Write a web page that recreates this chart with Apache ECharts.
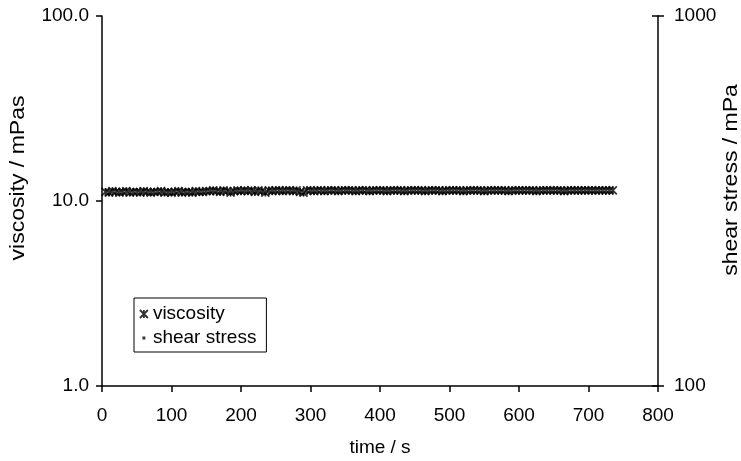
<!DOCTYPE html>
<html>
<head>
<meta charset="utf-8">
<script src="https://cdn.jsdelivr.net/npm/echarts@6/dist/echarts.min.js"></script>
<style>
  html, body { margin: 0; padding: 0; background: #fff; }
  #chart { width: 741px; height: 461px; }
</style>
</head>
<body>
<div id="chart"></div>
<script>
// Measurement times (s)
const timeS = [
  5, 10, 15, 20, 25, 30, 35, 40, 45, 50,
  55, 60, 65, 70, 75, 80, 85, 90, 95, 100,
  105, 110, 115, 120, 125, 130, 135, 140, 145, 150,
  155, 160, 165, 170, 175, 180, 185, 190, 195, 200,
  205, 210, 215, 220, 225, 230, 235, 240, 245, 250,
  255, 260, 265, 270, 275, 280, 285, 290, 295, 300,
  305, 310, 315, 320, 325, 330, 335, 340, 345, 350,
  355, 360, 365, 370, 375, 380, 385, 390, 395, 400,
  405, 410, 415, 420, 425, 430, 435, 440, 445, 450,
  455, 460, 465, 470, 475, 480, 485, 490, 495, 500,
  505, 510, 515, 520, 525, 530, 535, 540, 545, 550,
  555, 560, 565, 570, 575, 580, 585, 590, 595, 600,
  605, 610, 615, 620, 625, 630, 635, 640, 645, 650,
  655, 660, 665, 670, 675, 680, 685, 690, 695, 700,
  705, 710, 715, 720, 725, 730, 735
];

// Viscosity (mPas)
const viscosity = [
  11.2, 11.1, 11.3, 11.2, 11.1, 11.2, 11.3, 11.1, 11.2, 11.2,
  11.1, 11.3, 11.2, 11.1, 11.2, 11.2, 11.3, 11.1, 11.2, 11.1,
  11.2, 11.3, 11.1, 11.2, 11.2, 11.1, 11.3, 11.2, 11.2, 11.3,
  11.3, 11.4, 11.3, 11.2, 11.4, 11.3, 11.1, 11.3, 11.4, 11.3,
  11.4, 11.3, 11.4, 11.2, 11.4, 11.3, 11.1, 11.4, 11.3, 11.4,
  11.4, 11.3, 11.4, 11.4, 11.3, 11.4, 11.2, 11.1, 11.4, 11.4,
  11.3, 11.4, 11.4, 11.3, 11.4, 11.4, 11.4, 11.3, 11.4, 11.4,
  11.4, 11.4, 11.3, 11.4, 11.4, 11.4, 11.3, 11.4, 11.4, 11.4,
  11.4, 11.3, 11.4, 11.4, 11.4, 11.4, 11.3, 11.4, 11.4, 11.4,
  11.4, 11.4, 11.3, 11.4, 11.4, 11.4, 11.4, 11.3, 11.4, 11.4,
  11.4, 11.4, 11.4, 11.3, 11.4, 11.4, 11.4, 11.4, 11.4, 11.3,
  11.4, 11.4, 11.4, 11.4, 11.4, 11.4, 11.3, 11.4, 11.4, 11.4,
  11.4, 11.4, 11.4, 11.4, 11.3, 11.4, 11.4, 11.4, 11.4, 11.4,
  11.4, 11.4, 11.3, 11.4, 11.4, 11.4, 11.4, 11.4, 11.4, 11.4,
  11.4, 11.4, 11.4, 11.4, 11.4, 11.4, 11.4
];

// Shear stress (mPa) — no points fall inside the 100–1000 axis range
const shearStress = [];

const xTicks = { min: 0, max: 800, interval: 100 };
const leftRange = { min: 1, max: 100 };
const rightRange = { min: 100, max: 1000 };

const FONT = '"Liberation Sans", Arial, sans-serif';
const FS = 19;
const TITLE_FS = 20;
const TITLE_STRETCH = 1.15;
const asterisk = 'path://M0,0L10,10M10,0L0,10M5,0L5,10';
// small dot centred in a 10x10 box (corner specks only fix the box size)
const smallDot = 'path://M3.2,3.2h3.6v3.6h-3.6zM0,0h0.01v0.01h-0.01zM9.99,9.99h0.01v0.01h-0.01z';

const chart = echarts.init(document.getElementById('chart'), null, { renderer: 'canvas' });

const axisLine = { show: true, lineStyle: { color: '#000', width: 1.5 } };
const tickStyle = { color: '#000', width: 1.5 };
const labelStyle = { fontFamily: FONT, fontSize: FS, color: '#000' };

chart.setOption({
  animation: false,
  backgroundColor: '#fff',
  textStyle: { fontFamily: FONT, color: '#000' },
  grid: { left: 102, right: 83, top: 16, bottom: 75, containLabel: false, outerBoundsMode: 'none' },
  legend: {
    orient: 'vertical',
    left: 134,
    top: 298,
    borderColor: '#000',
    borderWidth: 1,
    borderRadius: 0,
    padding: [6, 10, 4, 5],
    itemGap: 4,
    itemWidth: 8,
    itemHeight: 8,
    textStyle: { fontFamily: FONT, fontSize: FS, color: '#000', lineHeight: 20 },
    data: [
      { name: 'viscosity', icon: asterisk, itemStyle: { color: '#000', borderColor: '#000', borderWidth: 1.8 } },
      { name: 'shear stress', icon: smallDot, itemStyle: { color: '#000', borderWidth: 0 } }
    ]
  },
  graphic: [
    {
      type: 'text', x: 18, y: 178, rotation: Math.PI / 2, scaleX: TITLE_STRETCH,
      style: { text: 'viscosity / mPas', font: TITLE_FS + 'px "Liberation Sans", Arial, sans-serif',
               fill: '#000', textAlign: 'center', textVerticalAlign: 'middle' }
    },
    {
      type: 'text', x: 731, y: 180, rotation: Math.PI / 2, scaleX: TITLE_STRETCH,
      style: { text: 'shear stress / mPa', font: TITLE_FS + 'px "Liberation Sans", Arial, sans-serif',
               fill: '#000', textAlign: 'center', textVerticalAlign: 'middle' }
    }
  ],
  xAxis: {
    type: 'value',
    min: xTicks.min, max: xTicks.max, interval: xTicks.interval,
    name: 'time / s',
    nameLocation: 'middle',
    nameGap: 52,
    nameTextStyle: labelStyle,
    axisLine: axisLine,
    axisTick: { show: true, inside: false, length: 6, lineStyle: tickStyle },
    axisLabel: Object.assign({ margin: 20 }, labelStyle),
    splitLine: { show: false }
  },
  yAxis: [
    {
      type: 'log', logBase: 10,
      min: leftRange.min, max: leftRange.max,
      position: 'left',
      axisLine: axisLine,
      axisTick: { show: true, inside: false, length: 6, lineStyle: tickStyle },
      axisLabel: Object.assign({ margin: 13, formatter: v => v.toFixed(1) }, labelStyle),
      minorTick: { show: false },
      splitLine: { show: false }
    },
    {
      type: 'log', logBase: 10,
      min: rightRange.min, max: rightRange.max,
      position: 'right',
      axisLine: axisLine,
      axisTick: { show: true, inside: false, length: 6, lineStyle: tickStyle },
      axisLabel: Object.assign({ margin: 16, formatter: v => String(Math.round(v)) }, labelStyle),
      splitLine: { show: false }
    },
    {
      // inner half of the crossing ticks on the right axis
      type: 'log', logBase: 10,
      min: rightRange.min, max: rightRange.max,
      position: 'right',
      axisLine: { show: false },
      axisTick: { show: true, inside: true, length: 6, lineStyle: tickStyle },
      axisLabel: { show: false },
      splitLine: { show: false }
    }
  ],
  series: [
    {
      name: 'viscosity',
      type: 'scatter',
      yAxisIndex: 0,
      symbol: asterisk,
      symbolSize: 8,
      itemStyle: { color: '#000', borderColor: '#000', borderWidth: 1.8 },
      data: timeS.map((t, i) => [t, viscosity[i]])
    },
    {
      name: 'shear stress',
      type: 'scatter',
      yAxisIndex: 1,
      symbol: 'circle',
      symbolSize: 4,
      itemStyle: { color: '#000' },
      data: shearStress
    }
  ]
});
</script>
</body>
</html>
